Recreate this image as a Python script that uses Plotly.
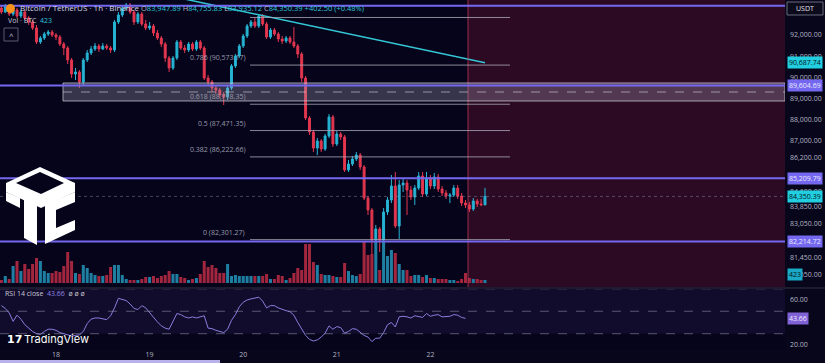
import plotly.graph_objects as go
import pandas as pd

# ---------------- data ----------------
open_ = [93279,93089,93374,92995,93184,92900,93089,92805,92615,92331,
         91668,91857,92047,92142,92000,91905,91573,91383,90815,90151,
         90246,89772,90815,91146,91336,91478,91336,91478,91383,91289,
         92615,92947,93279,93421,93089,92615,92995,92521,92331,92426,
         92094,91857,91573,90909,90436,90909,91668,91383,91289,91573,
         91336,91668,91383,89962,89772,89488,89393,89156,89061,89488,
         90531,91004,91478,91952,92426,92615,92426,92900,92521,91905,
         92236,92047,91810,91715,91857,91668,91478,91099,89962,88066,
         87402,86644,86976,86596,87213,88114,86834,87308,87166,85602,
         85886,86123,86312,85744,84275,83706,82284,82806,82284,83611,
         84180,84843,82948,84891,84986,84654,84322,84749,85317,84464,
         85222,84843,85270,84701,84512,84370,84417,84749,84370,84038,
         83943,83753,84133,83990,83947.89]
high = [93374,93468,93421,93279,93279,93184,93184,92900,92710,92473,
        91952,92142,92236,92236,92094,92000,91668,91478,90909,90436,
        90341,90909,91289,91478,91620,91573,91620,91573,91478,92710,
        93089,93421,93516,93516,93184,93089,93089,92710,92615,92521,
        92236,91952,91668,91004,91004,91762,91762,91525,91668,91668,
        91762,91762,91478,90104,89867,89630,89488,89298,89582,90625,
        91099,91573,92047,92521,92710,92805,92995,92995,92615,92331,
        92331,92142,91952,91952,91952,92378,91573,91194,90056,88161,
        87497,87118,87071,87308,88256,88208,87450,87402,87261,86076,
        86265,86454,86407,85839,84370,83801,82995,82900,83801,84322,
        85365,85507,85128,85222,85128,84843,84891,85507,85507,85507,
        85365,85459,85412,84843,84654,84512,84891,84891,84512,84180,
        84085,84275,84227,84227,84755.83]
low = [92995,93042,92900,92900,92805,92805,92710,92473,92236,91573,
       91573,91762,91952,91905,91762,91478,91051,90625,89962,89867,
       89488,89582,90720,91051,91241,91194,91289,91289,91146,91194,
       92521,92852,93184,92995,92473,92521,92426,92236,92236,91952,
       91762,91431,90720,90246,90341,90815,91289,91146,91194,91241,
       91241,91289,89867,89582,89298,89203,89014,88682,88919,89393,
       90436,90909,91383,91857,92331,92331,92331,92426,91810,91810,
       91952,91668,91573,91620,91573,91383,90909,89772,87971,87261,
       86454,86312,86454,86501,87118,86692,86739,87023,85507,85507,
       85791,86028,85602,84180,83469,81573,81808,81716,82047,83469,
       84038,82853,82332,84559,83469,84180,83943,84654,84322,84370,
       84701,84701,84559,84370,84227,84038,84322,84227,83896,83801,
       83611,83659,83848,83896,83935.12]
close = [93089,93374,92995,93184,92900,93089,92805,92615,92331,91668,
         91857,92047,92142,92000,91905,91573,91383,90815,90151,90246,
         89772,90815,91146,91336,91478,91336,91478,91383,91289,92615,
         92947,93279,93421,93089,92615,92995,92521,92331,92426,92094,
         91857,91573,90909,90436,90909,91668,91383,91289,91573,91336,
         91668,91383,89962,89772,89488,89393,89156,89061,89488,90531,
         91004,91478,91952,92426,92615,92426,92900,92521,91905,92236,
         92047,91810,91715,91857,91668,91478,91099,89962,88066,87402,
         86644,86976,86596,87213,88114,86834,87308,87166,85602,85886,
         86123,86312,85744,84275,83706,82284,82806,82284,83611,84180,
         84843,82948,84891,84986,84654,84322,84749,85317,84464,85222,
         84843,85270,84701,84512,84370,84417,84749,84370,84038,83943,
         83753,84133,83990,83947.89,84350.39]
volume = [423,987,564,2397,3102,1692,2679,1974,2679,3525,
          3102,1692,1410,1410,1692,1551,2397,4371,3102,1410,
          1269,2538,2115,1410,1128,987,987,1128,2256,2538,
          2538,1128,564,423,423,423,564,846,846,987,
          705,987,1128,1692,1269,1269,846,705,423,564,
          705,1269,3102,2256,2538,2115,1410,1410,2679,987,
          1128,987,987,987,987,
          987,987,987,1269,564,564,1128,987,423,705,
          1410,2115,1833,5499,5499,2961,2538,1269,1128,1128,
          987,846,846,2820,1692,1128,987,1269,5922,3948,
          4089,5922,1833,5922,3807,4653,4230,2679,1833,1833,
          987,1128,1128,846,1128,705,705,564,564,564,
          423,423,282,564,1410,705,564,564,423,423]
rsi = [55,52.5,48.5,41,46.5,43,38,34.8,32,30,
       29.5,32,34,34,33,31,30,29,28,28.5,
       29,32,39,43,44,44,43.5,42.5,46,53,
       61.5,60.5,59.5,56.5,52.5,51.5,55,53,48.5,45,
       40.5,37,35,34,41,48,47,45,44,45,
       44,45,46,35,34.5,33,32,31,34,42,
       47,54,58,60,61,61.5,62.5,59,53,55,
       55,53,51.5,50.5,49.6,46.5,40,34,28.5,25,
       23.5,24.5,27,30.5,37,34,36.3,35.5,30.5,32,
       34.5,34,31.5,28.5,27,23,26,26,31,38,
       40,36,45,45.5,45,44,46,45,44.5,48,
       45.5,46.5,47,45,45,45.5,47,46.5,44.5,43.66]

first_bar = "2025-03-17 10:00"
day_ticks = ["2025-03-18", "2025-03-19", "2025-03-20", "2025-03-21", "2025-03-22"]
day_labels = ["18", "19", "20", "21", "22"]
price_ticks = [92000, 91000, 90000, 89000, 88000, 87000, 86200,
               84600, 83850, 83050, 81450, 80650]
rsi_ticks = [60, 20]
fib_levels = ["1", "0.786", "0.618", "0.5", "0.382", "0"]
fib_prices = [92830, 90573.17, 88718.35, 87471.35, 86222.66, 82301.27]
level_lines = [93390, 89604.69, 85209.79, 82214.72]
zone_top, zone_bottom = 89725, 88872
trend_prices = [93700, 90687.74]
last_price = 84350.39
last_volume = 423
last_rsi = 43.66

# ---------------- geometry helpers ----------------
W, H = 825, 363
MR, MB = 40, 14
PW, PH = W - MR, H - MB
BASE = pd.Timestamp("2025-03-18 00:00")


def t(hours):
    return BASE + pd.Timedelta(hours=hours)


def fx(px):
    return px / PW


def fy(py):
    return 1 - py / PH


def hours_at(px):
    return (px - 56) / 3.9


times = pd.date_range(first_bar, periods=len(close), freq="h")
x_range = [t(hours_at(0)), t(hours_at(PW))]
MAIN_BOTTOM = 287
RSI_TOP = 289

UP, DOWN = "#27b4d4", "#e3374f"
VUP, VDOWN = "#1f7fa3", "#a3263f"
BG = "#05041a"
PURPLE = "#7468f0"
GRAY_TXT = "#b4b4c4"
FONT = "Open Sans"

fig = go.Figure()

fig.add_trace(go.Bar(
    x=times, y=volume, yaxis="y2", xaxis="x",
    marker_color=[VUP if c >= o else VDOWN for o, c in zip(open_, close)],
    marker_line_width=0, showlegend=False, hoverinfo="skip"))

fig.add_trace(go.Candlestick(
    x=times, open=open_, high=high, low=low, close=close,
    increasing=dict(line=dict(color=UP, width=1), fillcolor=UP),
    decreasing=dict(line=dict(color=DOWN, width=1), fillcolor=DOWN),
    showlegend=False, hoverinfo="skip", xaxis="x", yaxis="y"))

fig.add_trace(go.Scatter(
    x=[t(hours_at(185)), t(110)], y=trend_prices, mode="lines",
    line=dict(color="#35c6d6", width=1.5), showlegend=False, hoverinfo="skip",
    xaxis="x", yaxis="y"))

fig.add_trace(go.Scatter(
    x=times[:len(rsi)], y=rsi, mode="lines",
    line=dict(color="#8a7ee0", width=1), showlegend=False, hoverinfo="skip",
    xaxis="x2", yaxis="y3"))

shapes = []
# red future zone
zone_x0 = t(hours_at(468))
shapes.append(dict(type="rect", xref="x", yref="paper", x0=zone_x0, x1=x_range[1],
                   y0=fy(MAIN_BOTTOM), y1=1, fillcolor="rgba(110,20,50,0.38)",
                   line_width=0, layer="below"))
shapes.append(dict(type="line", xref="x", yref="paper", x0=zone_x0, x1=zone_x0,
                   y0=fy(MAIN_BOTTOM), y1=1, line=dict(color="rgba(200,60,90,0.75)", width=1)))
# grey zone box
shapes.append(dict(type="rect", xref="x", yref="y", x0=t(hours_at(63)), x1=x_range[1],
                   y0=zone_bottom, y1=zone_top, fillcolor="rgba(170,170,190,0.30)",
                   line=dict(color="rgba(200,200,215,0.75)", width=1), layer="above"))
shapes.append(dict(type="line", xref="x", yref="y", x0=t(hours_at(63)), x1=x_range[1],
                   y0=(zone_top + zone_bottom) / 2, y1=(zone_top + zone_bottom) / 2,
                   line=dict(color="rgba(210,210,225,0.6)", width=1, dash="dash")))
# fib lines
for p in fib_prices:
    shapes.append(dict(type="line", xref="x", yref="y", x0=t(hours_at(250)), x1=t(hours_at(510)),
                       y0=p, y1=p, line=dict(color="rgba(170,170,185,0.8)", width=1)))
# last price dotted line
shapes.append(dict(type="line", xref="paper", yref="y", x0=0, x1=1, y0=last_price, y1=last_price,
                   line=dict(color="rgba(140,150,180,0.45)", width=1, dash="dot")))
# purple levels
for p in level_lines:
    shapes.append(dict(type="line", xref="paper", yref="y", x0=0, x1=1, y0=p, y1=p,
                       line=dict(color=PURPLE, width=2)))
# pane separator
shapes.append(dict(type="line", xref="paper", yref="paper", x0=0, x1=W / PW,
                   y0=fy(288), y1=fy(288), line=dict(color="#1c1c30", width=2)))
# RSI band and guides
shapes.append(dict(type="rect", xref="paper", yref="y3", x0=0, x1=1, y0=30, y1=70,
                   fillcolor="rgba(126,87,194,0.10)", line_width=0, layer="below"))
for lv in (70, 50, 30):
    shapes.append(dict(type="line", xref="paper", yref="y3", x0=0, x1=1, y0=lv, y1=lv,
                       line=dict(color="rgba(150,150,175,0.55)", width=1, dash="dash")))
# scrollbar strip
shapes.append(dict(type="rect", xref="paper", yref="paper", x0=0, x1=fx(220),
                   y0=fy(363), y1=fy(360), fillcolor="#b9b2ea", line_width=0))
# bitcoin icon
shapes.append(dict(type="circle", xref="paper", yref="paper", x0=fx(6), x1=fx(15),
                   y0=fy(13), y1=fy(4), fillcolor="#f7931a", line_width=0))
# collapse button
shapes.append(dict(type="rect", xref="paper", yref="paper", x0=fx(4), x1=fx(18),
                   y0=fy(41), y1=fy(28), fillcolor="rgba(0,0,0,0)",
                   line=dict(color="#5a5a6e", width=1)))
# USDT box
shapes.append(dict(type="rect", xref="paper", yref="paper", x0=fx(787), x1=fx(823),
                   y0=fy(15), y1=fy(2), fillcolor="#0b0b1c", line=dict(color="#6a6a7e", width=1)))


def path(points):
    s = "M " + " L ".join(f"{fx(a):.5f},{fy(b):.5f}" for a, b in points)
    return s + " Z"


# watermark logo (white cube-like mark)
shapes.append(dict(type="path", xref="paper", yref="paper",
                   path=path([(6, 183), (40, 167), (75, 183), (75, 192), (41, 208), (6, 192)]),
                   fillcolor="white", line_width=0))
shapes.append(dict(type="path", xref="paper", yref="paper",
                   path=path([(16, 183), (40, 172), (64, 183), (41, 194)]),
                   fillcolor=BG, line_width=0))
shapes.append(dict(type="path", xref="paper", yref="paper",
                   path=path([(24, 199), (37, 205), (37, 245), (24, 238)]),
                   fillcolor="white", line_width=0))
shapes.append(dict(type="path", xref="paper", yref="paper",
                   path=path([(45, 205), (75, 192), (75, 202), (56, 210), (56, 228), (75, 220),
                              (75, 230), (45, 244)]),
                   fillcolor="white", line_width=0))
shapes.append(dict(type="path", xref="paper", yref="paper",
                   path=path([(6, 192), (20, 198), (20, 208), (6, 201)]),
                   fillcolor="white", line_width=0))

ann = []
ann.append(dict(xref="paper", yref="paper", x=fx(18), y=fy(8), xanchor="left", yanchor="middle",
                text="Bitcoin / TetherUS · 1h · Binance", showarrow=False,
                font=dict(family=FONT, size=8, color="#d6d6e2")))
cv = "#2ec6dc"
ohlc = (f"O<span style='color:{cv}'>83,947.89</span> H<span style='color:{cv}'>84,755.83</span> "
        f"L<span style='color:{cv}'>83,935.12</span> C<span style='color:{cv}'>84,350.39</span> "
        f"<span style='color:{cv}'>+402.50 (+0.48%)</span>")
ann.append(dict(xref="paper", yref="paper", x=fx(139), y=fy(8), xanchor="left", yanchor="middle",
                text=ohlc, showarrow=False, font=dict(family=FONT, size=7.5, color="#b8b8c8")))
ann.append(dict(xref="paper", yref="paper", x=fx(6), y=fy(21), xanchor="left", yanchor="middle",
                text=f"Vol · BTC  <span style='color:{cv}'>{last_volume}</span>", showarrow=False,
                font=dict(family=FONT, size=7, color="#c8c8d4")))
ann.append(dict(xref="paper", yref="paper", x=fx(11), y=fy(35), xanchor="center", yanchor="middle",
                text="^", showarrow=False, font=dict(family=FONT, size=8, color="#c8c8d4")))
ann.append(dict(xref="paper", yref="paper", x=fx(3), y=fy(293), xanchor="left", yanchor="middle",
                text=f"RSI 14 close  <span style='color:#8f82e6'>{last_rsi}</span>  ø ø ø",
                showarrow=False, font=dict(family=FONT, size=7, color="#c8c8d4")))
ann.append(dict(xref="paper", yref="paper", x=fx(5), y=fy(339), xanchor="left", yanchor="middle",
                text="<b>17</b>", showarrow=False, font=dict(family="DejaVu Sans", size=11, color="white")))
ann.append(dict(xref="paper", yref="paper", x=fx(22), y=fy(339), xanchor="left", yanchor="middle",
                text="TradingView", showarrow=False, font=dict(family="Inter", size=11, color="white")))
ann.append(dict(xref="paper", yref="paper", x=fx(805), y=fy(8.5), xanchor="center", yanchor="middle",
                text="USDT", showarrow=False, font=dict(family=FONT, size=7, color="#e0e0ea")))
# fib labels
for lv, p in zip(fib_levels, fib_prices):
    if lv == "1":
        continue
    ann.append(dict(xref="paper", yref="y", x=fx(247), y=p, xanchor="right", yanchor="bottom",
                    yshift=1, text=f"{lv} ({p:,.2f})", showarrow=False,
                    font=dict(family=FONT, size=7, color="#9a9aac")))


def axis_label(yref, val, text, bg, fg):
    ann.append(dict(xref="paper", yref=yref, x=1, y=val, xanchor="left", yanchor="middle",
                    xshift=2, text=text, showarrow=False, bgcolor=bg, borderpad=1,
                    font=dict(family=FONT, size=7, color=fg)))


axis_label("y", trend_prices[1], f"{trend_prices[1]:,.2f}", "#22cfe0", "#06121a")
for p in level_lines[1:]:
    axis_label("y", p, f"{p:,.2f}", PURPLE, "#eceaff")
axis_label("y", last_price, f"{last_price:,.2f}", "#22cfe0", "#06121a")
axis_label("y", 80626, f"{last_volume}", "#1aa9c6", "#06121a")
axis_label("y3", last_rsi, f"{last_rsi}", "#8061d6", "#f0eaff")

fig.update_layout(
    width=W, height=H,
    margin=dict(l=0, r=MR, t=0, b=MB),
    paper_bgcolor="#07061b", plot_bgcolor=BG,
    bargap=0.22, showlegend=False,
    shapes=shapes, annotations=ann,
    xaxis=dict(domain=[0, 1], range=x_range, anchor="y", showticklabels=False,
               showgrid=False, zeroline=False, rangeslider=dict(visible=False), fixedrange=True),
    yaxis=dict(domain=[fy(MAIN_BOTTOM), 1], range=[80057, 93658], side="right",
               tickvals=price_ticks, ticktext=[f"{v:,.2f}" for v in price_ticks],
               tickfont=dict(family=FONT, size=7, color=GRAY_TXT), showgrid=False,
               zeroline=False, ticks="", ticklabelstandoff=4),
    yaxis2=dict(overlaying="y", range=[-564, 39906], visible=False),
    xaxis2=dict(domain=[0, 1], range=x_range, anchor="y3", tickvals=day_ticks, ticktext=day_labels,
                tickfont=dict(family=FONT, size=7, color=GRAY_TXT), showgrid=False,
                zeroline=False, ticks=""),
    yaxis3=dict(domain=[0, fy(RSI_TOP)], range=[16.4, 69.8], side="right",
                tickvals=rsi_ticks, ticktext=[f"{v:.2f}" for v in rsi_ticks],
                tickfont=dict(family=FONT, size=7, color=GRAY_TXT), showgrid=False,
                zeroline=False, ticks="", ticklabelstandoff=4),
)

fig.write_html(
    "out.html",
    config={"displayModeBar": False, "staticPlot": True},
    post_script="document.body.style.margin='0';document.body.style.overflow='hidden';"
                "document.body.style.background='#07061b';",
)
